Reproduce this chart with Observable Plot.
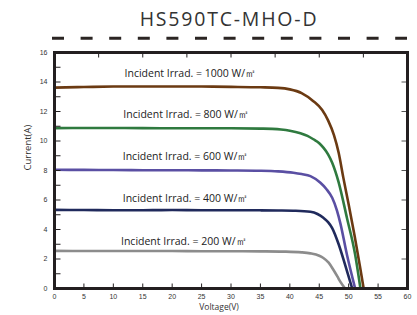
<!DOCTYPE html>
<html><head><meta charset="utf-8">
<script src="https://cdn.jsdelivr.net/npm/d3@7"></script>
<script src="https://cdn.jsdelivr.net/npm/@observablehq/plot@0.6"></script>
<style>
html,body{margin:0;padding:0;background:#fff;}
#wrap{position:relative;width:417px;height:315px;overflow:hidden;background:#fff;}
#title{position:absolute;left:229px;top:8.7px;transform:translateX(-50%);font-family:"Open Sans",sans-serif;font-size:19.5px;line-height:1;letter-spacing:1.8px;color:#333;white-space:nowrap;}
#dash{position:absolute;left:0;top:0;}
#chart{position:absolute;left:0;top:44px;}
</style></head><body>
<div id="wrap"><div id="title">HS590TC-MHO-D</div><div id="chart"></div></div>
<script>
const title = "HS590TC-MHO-D";
const xLabel = "Voltage(V)";
const yLabel = "Current(A)";
const irradiances = [1000, 800, 600, 400, 200];
const colors = ["#6b3a12", "#2f7a3f", "#5a4fa3", "#202a5c", "#8c8c8c"];

const v1000 = [0,5,10,15,20,25,30,35,38,40,42,44,45.5,46.5,47.5,48.3,49.1,50,51,52,52.55];
const i1000 = [13.62,13.66,13.69,13.70,13.70,13.69,13.67,13.64,13.60,13.5,13.25,12.7,12.1,11.4,10.4,9.2,7.5,5.7,3.6,1.3,0];
const v800 = [0,5,10,15,20,25,30,35,37,38.5,40,41.8,43,44,45,45.7,46.5,47.2,48.3,49.7,51.1,52.0];
const i800 = [10.87,10.88,10.88,10.87,10.86,10.86,10.86,10.84,10.82,10.78,10.7,10.53,10.35,10.12,9.85,9.55,9.1,8.53,7.2,4.8,2.3,0];
const v600 = [0,5,10,15,20,25,30,35,38,40.6,42,43.5,45.2,46.2,47.2,48,48.6,49.7,51.1];
const i600 = [8.05,8.04,8.03,8.02,8.02,8.01,8.0,7.98,7.94,7.85,7.76,7.62,7.17,6.75,6.15,5.3,4.4,2.3,0];
const v400 = [0,5,10,15,20,25,30,35,38,41,43.5,44.7,45.7,46.5,47.2,48.3,49.4,50.6];
const i400 = [5.33,5.32,5.31,5.31,5.32,5.31,5.31,5.30,5.29,5.27,5.2,5.05,4.79,4.5,4.1,3.0,1.6,0];
const v200 = [0,5,10,15,20,25,30,35,39,42,43.5,45,45.7,46.6,47.4,48.1,48.6,49.4];
const i200 = [2.55,2.54,2.54,2.54,2.54,2.53,2.53,2.52,2.5,2.45,2.38,2.22,2.07,1.75,1.27,0.8,0.45,0];

const labelV = [11.9, 11.7, 11.6, 11.6, 11.3];
const labelI = [14.57, 11.78, 8.92, 6.1, 3.2];

const xTickLabels = [0,5,10,15,20,25,30,35,40,45,50,55,60];
const yTickLabels = [0,2,4,6,8,10,12,14,16];
const bottomTicks = [5,10,15,20,25,30,35,40,45,50,55];
const topTicks = [7.5,15,22.5,30,37.5,45,52.5];
const leftTicks = [1,2,3,4,5,6,7,8,9,10,11,12,13,14,15];
const rightTicks = [2,4,6,8,10,12,14];

const seriesV = [v1000, v800, v600, v400, v200];
const seriesI = [i1000, i800, i600, i400, i200];
const rows = [];
irradiances.forEach((g, k) => seriesV[k].forEach((v, j) => rows.push({g, v, i: seriesI[k][j]})));
const labels = irradiances.map((g, k) => ({g, v: labelV[k], i: labelI[k], text: `Incident Irrad. = ${g} W/㎡`}));

const tickFont = {fontFamily: "Liberation Sans, Arial, sans-serif", fontSize: 7, fill: "#333"};
const ink = "#231f20";

const plot = Plot.plot({
  width: 417, height: 271,
  marginLeft: 54, marginRight: 10, marginTop: 8, marginBottom: 27,
  style: {background: "#fff", fontFamily: "Liberation Sans, Arial, sans-serif", fontSize: "7px", color: "#333"},
  x: {domain: [0, 60]},
  y: {domain: [0, 16]},
  color: {domain: irradiances, range: colors},
  marks: [
    Plot.line(rows, {x: "v", y: "i", z: "g", stroke: "g", strokeWidth: 2.6, curve: "monotone-x"}),
    Plot.text(labels, {x: "v", y: "i", text: "text", textAnchor: "start", fontFamily: "Open Sans, sans-serif", fontSize: 10.5, fill: "#222", style: "letter-spacing:0.6px"}),
    Plot.axisX(xTickLabels, {anchor: "bottom", tickSize: 0, tickPadding: 6, label: null, ...tickFont}),
    Plot.axisY(yTickLabels, {anchor: "left", tickSize: 0, tickPadding: 7, label: null, ...tickFont}),
    // inward ticks: draw toward the inside of the frame
    Plot.axisX(bottomTicks, {anchor: "top", frameAnchor: "bottom", tickSize: 5.5, text: null, label: null, stroke: ink}),
    Plot.axisX(topTicks, {anchor: "bottom", frameAnchor: "top", tickSize: 5.5, text: null, label: null, stroke: ink}),
    Plot.axisY(leftTicks, {anchor: "right", frameAnchor: "left", tickSize: 5.5, text: null, label: null, stroke: ink}),
    Plot.axisY(rightTicks, {anchor: "left", frameAnchor: "right", tickSize: 5.5, text: null, label: null, stroke: "#555"}),
    Plot.frame({stroke: ink, strokeWidth: 3}),
    Plot.text([yLabel], {frameAnchor: "left", dx: -27, rotate: -90, fontFamily: "Open Sans, sans-serif", fontSize: 9.5, fill: "#333"}),
    Plot.text([xLabel], {frameAnchor: "bottom", dx: -12, dy: 21, fontFamily: "Open Sans, sans-serif", fontSize: 8.5, fill: "#333"})
  ]
});
document.getElementById("chart").appendChild(plot);

// dashed rule under the title
const svg = d3.select("#wrap").append("svg").attr("id", "dash").attr("width", 417).attr("height", 44);
svg.append("line").attr("x1", 52).attr("x2", 407).attr("y1", 38.3).attr("y2", 38.3)
  .attr("stroke", "#2b2523").attr("stroke-width", 3).attr("stroke-dasharray", "12 16.6");
</script>
</body></html>
